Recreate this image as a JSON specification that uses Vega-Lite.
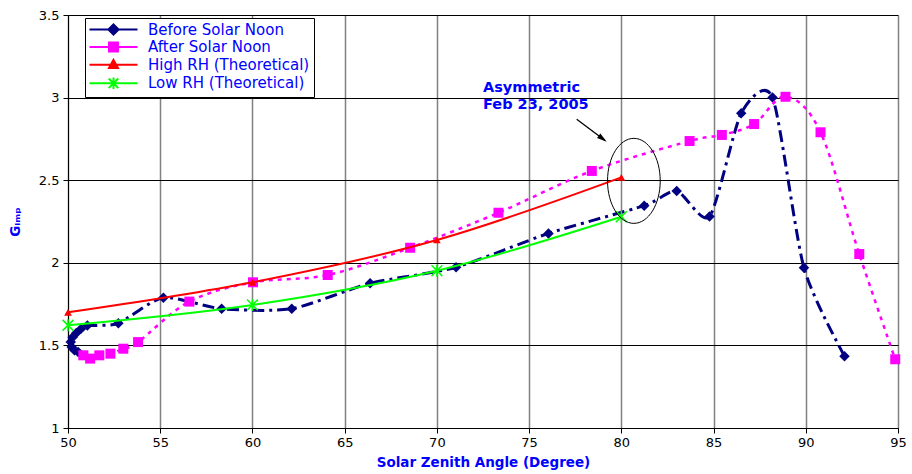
{
  "$schema": "https://vega.github.io/schema/vega-lite/v6.json",
  "width": 830,
  "height": 413,
  "autosize": {"type": "none"},
  "padding": {"left": 68, "top": 15, "right": 14, "bottom": 46},
  "background": "white",
  "datasets": {
    "pts": [
      {"series": "Before Solar Noon", "ord": 1, "x": 92.1, "y": 1.435},
      {"series": "Before Solar Noon", "ord": 2, "x": 89.9, "y": 1.97},
      {"series": "Before Solar Noon", "ord": 3, "x": 88.2, "y": 3.0},
      {"series": "Before Solar Noon", "ord": 4, "x": 86.5, "y": 2.905},
      {"series": "Before Solar Noon", "ord": 5, "x": 84.78, "y": 2.28},
      {"series": "Before Solar Noon", "ord": 6, "x": 83.0, "y": 2.435},
      {"series": "Before Solar Noon", "ord": 7, "x": 81.24, "y": 2.346},
      {"series": "Before Solar Noon", "ord": 8, "x": 76.05, "y": 2.178},
      {"series": "Before Solar Noon", "ord": 9, "x": 71.04, "y": 1.973},
      {"series": "Before Solar Noon", "ord": 10, "x": 66.38, "y": 1.876},
      {"series": "Before Solar Noon", "ord": 11, "x": 62.13, "y": 1.722},
      {"series": "Before Solar Noon", "ord": 12, "x": 58.33, "y": 1.722},
      {"series": "Before Solar Noon", "ord": 13, "x": 55.17, "y": 1.789},
      {"series": "Before Solar Noon", "ord": 14, "x": 52.73, "y": 1.634},
      {"series": "Before Solar Noon", "ord": 15, "x": 51.05, "y": 1.62},
      {"series": "Before Solar Noon", "ord": 16, "x": 50.7, "y": 1.6},
      {"series": "Before Solar Noon", "ord": 17, "x": 50.45, "y": 1.575},
      {"series": "Before Solar Noon", "ord": 18, "x": 50.25, "y": 1.55},
      {"series": "Before Solar Noon", "ord": 19, "x": 50.15, "y": 1.52},
      {"series": "Before Solar Noon", "ord": 20, "x": 50.2, "y": 1.49},
      {"series": "Before Solar Noon", "ord": 21, "x": 50.35, "y": 1.47},
      {"series": "Before Solar Noon", "ord": 22, "x": 50.55, "y": 1.46},
      {"series": "After Solar Noon", "ord": 1, "x": 50.83, "y": 1.44},
      {"series": "After Solar Noon", "ord": 2, "x": 51.2, "y": 1.42},
      {"series": "After Solar Noon", "ord": 3, "x": 51.7, "y": 1.44},
      {"series": "After Solar Noon", "ord": 4, "x": 52.3, "y": 1.45},
      {"series": "After Solar Noon", "ord": 5, "x": 53.0, "y": 1.48},
      {"series": "After Solar Noon", "ord": 6, "x": 53.8, "y": 1.52},
      {"series": "After Solar Noon", "ord": 7, "x": 56.58, "y": 1.765},
      {"series": "After Solar Noon", "ord": 8, "x": 60.03, "y": 1.882},
      {"series": "After Solar Noon", "ord": 9, "x": 64.08, "y": 1.926},
      {"series": "After Solar Noon", "ord": 10, "x": 68.55, "y": 2.091},
      {"series": "After Solar Noon", "ord": 11, "x": 73.34, "y": 2.303},
      {"series": "After Solar Noon", "ord": 12, "x": 78.4, "y": 2.556},
      {"series": "After Solar Noon", "ord": 13, "x": 83.7, "y": 2.737},
      {"series": "After Solar Noon", "ord": 14, "x": 85.45, "y": 2.774},
      {"series": "After Solar Noon", "ord": 15, "x": 87.2, "y": 2.84},
      {"series": "After Solar Noon", "ord": 16, "x": 88.9, "y": 3.005},
      {"series": "After Solar Noon", "ord": 17, "x": 90.8, "y": 2.79},
      {"series": "After Solar Noon", "ord": 18, "x": 92.9, "y": 2.053},
      {"series": "After Solar Noon", "ord": 19, "x": 94.85, "y": 1.416},
      {"series": "High RH (Theoretical)", "ord": 1, "x": 50, "y": 1.7},
      {"series": "High RH (Theoretical)", "ord": 2, "x": 60, "y": 1.882},
      {"series": "High RH (Theoretical)", "ord": 3, "x": 70, "y": 2.138},
      {"series": "High RH (Theoretical)", "ord": 4, "x": 80, "y": 2.517},
      {"series": "Low RH (Theoretical)", "ord": 1, "x": 50, "y": 1.622},
      {"series": "Low RH (Theoretical)", "ord": 2, "x": 60, "y": 1.745},
      {"series": "Low RH (Theoretical)", "ord": 3, "x": 70, "y": 1.952},
      {"series": "Low RH (Theoretical)", "ord": 4, "x": 80, "y": 2.279}
    ],
    "ann": [
      {"label": "Asymmetric", "x": 72.5, "y": 3.036},
      {"label": "Feb 23, 2005", "x": 72.5, "y": 2.93}
    ],
    "ell": [{"x": 80.68, "y": 2.496}],
    "arrow": [{"x": 77.58, "y": 2.869, "x2": 79.1, "y2": 2.742}],
    "head": [{"x": 78.99, "y": 2.751}]
  },
  "config": {
    "view": {"stroke": null},
    "font": "DejaVu Sans",
    "axis": {
      "labelFont": "DejaVu Sans",
      "labelFontSize": 13,
      "labelColor": "#000000",
      "domainColor": "#000000",
      "domainWidth": 1,
      "tickColor": "#000000",
      "tickSize": 5,
      "titleFont": "DejaVu Sans",
      "titleFontWeight": "bold",
      "titleFontSize": 13.5,
      "titleColor": "#0000FF",
      "labelFlush": false,
      "labelOverlap": false
    },
    "legend": {
      "orient": "none",
      "legendX": 17,
      "legendY": 3,
      "padding": 4,
      "fillColor": "white",
      "strokeColor": "black",
      "strokeWidth": 1,
      "cornerRadius": 0,
      "labelFont": "DejaVu Sans",
      "labelFontSize": 15,
      "labelColor": "#0000FF",
      "labelLimit": 400,
      "symbolSize": 144,
      "symbolStrokeWidth": 2,
      "symbolOpacity": 1,
      "symbolOffset": 17,
      "labelOffset": 27,
      "rowPadding": -0.4,
      "titleFontSize": 0
    }
  },
  "encoding": {
    "x": {
      "field": "x", "type": "quantitative",
      "scale": {"domain": [50, 95], "nice": false, "zero": false},
      "axis": {
        "values": [50, 55, 60, 65, 70, 75, 80, 85, 90, 95],
        "title": "Solar Zenith Angle (Degree)",
        "grid": true, "gridColor": "#808080", "gridWidth": 1.5,
        "labelPadding": 3, "titlePadding": 6
      }
    },
    "y": {
      "field": "y", "type": "quantitative",
      "scale": {"domain": [1, 3.5], "nice": false, "zero": false},
      "axis": {
        "values": [1, 1.5, 2, 2.5, 3, 3.5],
        "format": "~g",
        "title": "Gᵢₘₚ",
        "grid": true, "gridColor": "#000000", "gridWidth": 1,
        "labelPadding": 4, "titlePadding": 16
      }
    }
  },
  "layer": [
    {
      "data": {"name": "pts"},
      "transform": [{"filter": "datum.series === 'Before Solar Noon'"}],
      "mark": {"type": "line", "interpolate": "cardinal", "tension": 0.3, "color": "#000080", "strokeWidth": 3, "strokeDash": [12, 5, 3, 5]},
      "encoding": {"order": {"field": "ord", "type": "quantitative"}}
    },
    {
      "data": {"name": "pts"},
      "transform": [{"filter": "datum.series === 'Before Solar Noon'"}],
      "mark": {"type": "point", "shape": "diamond", "filled": true, "color": "#000080", "opacity": 1, "size": 110}
    },
    {
      "data": {"name": "pts"},
      "transform": [{"filter": "datum.series === 'After Solar Noon'"}],
      "mark": {"type": "line", "interpolate": "cardinal", "color": "#FF00FF", "strokeWidth": 2.5, "strokeDash": [4, 5]},
      "encoding": {"order": {"field": "ord", "type": "quantitative"}}
    },
    {
      "data": {"name": "pts"},
      "transform": [{"filter": "datum.series === 'After Solar Noon'"}],
      "mark": {"type": "point", "shape": "square", "filled": true, "color": "#FF00FF", "opacity": 1, "size": 100}
    },
    {
      "data": {"name": "pts"},
      "transform": [{"filter": "datum.series === 'High RH (Theoretical)'"}],
      "mark": {"type": "line", "interpolate": "cardinal", "color": "#FF0000", "strokeWidth": 2},
      "encoding": {"order": {"field": "ord", "type": "quantitative"}}
    },
    {
      "data": {"name": "pts"},
      "transform": [{"filter": "datum.series === 'High RH (Theoretical)'"}],
      "mark": {"type": "point", "shape": "triangle-up", "filled": true, "color": "#FF0000", "opacity": 1, "size": 60}
    },
    {
      "data": {"name": "pts"},
      "transform": [{"filter": "datum.series === 'Low RH (Theoretical)'"}],
      "mark": {"type": "line", "interpolate": "cardinal", "color": "#00FF00", "strokeWidth": 2},
      "encoding": {"order": {"field": "ord", "type": "quantitative"}}
    },
    {
      "data": {"name": "pts"},
      "transform": [{"filter": "datum.series === 'Low RH (Theoretical)'"}],
      "mark": {"type": "point", "shape": "M0,-1V1M-0.9,-0.9L0.9,0.9M-0.9,0.9L0.9,-0.9", "filled": false, "stroke": "#00FF00", "strokeWidth": 1.5, "opacity": 1, "size": 144}
    },
    {
      "data": {"name": "pts"},
      "mark": {"type": "point", "opacity": 0, "filled": true},
      "encoding": {
        "shape": {
          "field": "series", "type": "nominal",
          "scale": {
            "domain": ["Before Solar Noon", "After Solar Noon", "High RH (Theoretical)", "Low RH (Theoretical)"],
            "range": [
              "M-4,0H4M0,-0.85L0.85,0L0,0.85L-0.85,0Z",
              "M-4,0H4M-0.75,-0.75H0.75V0.75H-0.75Z",
              "M-4,0H4M0,-0.8L0.75,0.55H-0.75Z",
              "M-4,0H4M0,-0.95V0.95M-0.8,-0.8L0.8,0.8M-0.8,0.8L0.8,-0.8"
            ]
          },
          "legend": {
            "title": null,
            "encode": {
              "symbols": {
                "update": {
                  "strokeDash": {"signal": "datum.value === 'Before Solar Noon' ? [14, 4, 4, 4] : datum.value === 'After Solar Noon' ? [5, 4] : [1, 0]"}
                }
              }
            }
          }
        },
        "fill": {
          "field": "series", "type": "nominal",
          "scale": {
            "domain": ["Before Solar Noon", "After Solar Noon", "High RH (Theoretical)", "Low RH (Theoretical)"],
            "range": ["#000080", "#FF00FF", "#FF0000", "#00FF00"]
          },
          "legend": {"title": null}
        },
        "stroke": {
          "field": "series", "type": "nominal",
          "scale": {
            "domain": ["Before Solar Noon", "After Solar Noon", "High RH (Theoretical)", "Low RH (Theoretical)"],
            "range": ["#000080", "#FF00FF", "#FF0000", "#00FF00"]
          },
          "legend": {"title": null}
        }
      }
    },
    {
      "data": {"name": "ell"},
      "mark": {"type": "point", "shape": "M0,-1A0.62,1 0 1,1 0,1A0.62,1 0 1,1 0,-1Z", "filled": false, "stroke": "#000000", "strokeWidth": 1, "opacity": 1, "size": 7225}
    },
    {
      "data": {"name": "arrow"},
      "mark": {"type": "rule", "color": "#000000", "strokeWidth": 1.3},
      "encoding": {
        "x2": {"field": "x2"},
        "y2": {"field": "y2"}
      }
    },
    {
      "data": {"name": "head"},
      "mark": {"type": "point", "shape": "M0,-1L0.55,1L-0.55,1Z", "filled": true, "color": "#000000", "opacity": 1, "size": 100, "angle": 126.7}
    },
    {
      "data": {"name": "ann"},
      "mark": {"type": "text", "align": "left", "baseline": "alphabetic", "font": "DejaVu Sans", "fontWeight": "bold", "fontSize": 14.5, "color": "#0000FF"},
      "encoding": {"text": {"field": "label"}}
    }
  ]
}
